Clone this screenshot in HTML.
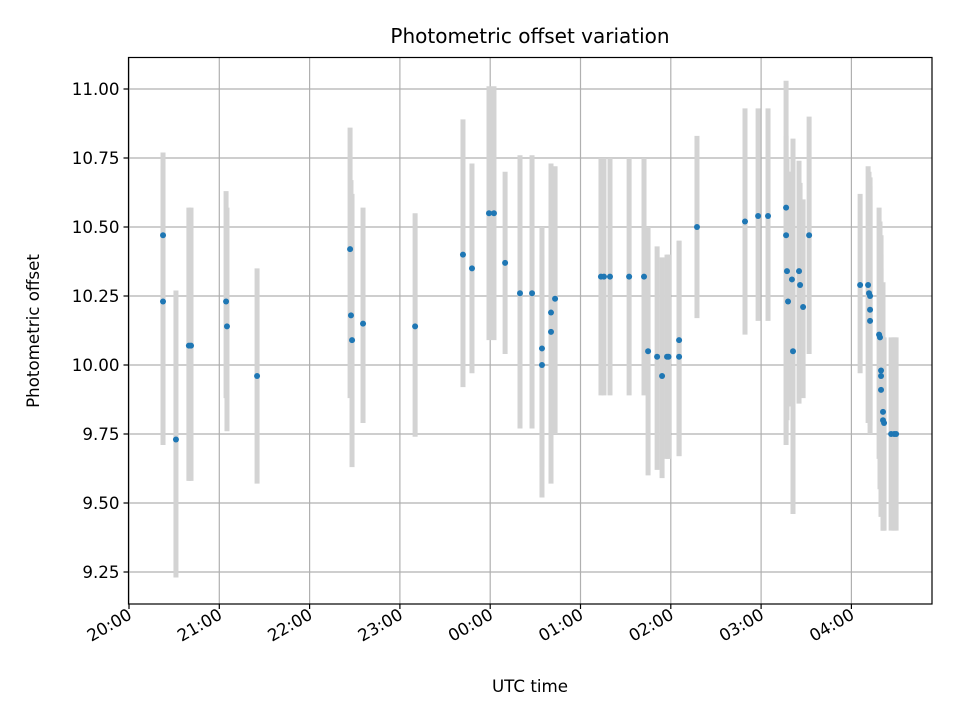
<!DOCTYPE html>
<html><head><meta charset="utf-8">
<style>
html,body{margin:0;padding:0;background:#fff;}
svg text{font-family:"DejaVu Sans","Liberation Sans",sans-serif;fill:#000;}
</style></head>
<body>
<svg id="chart" width="960" height="720" viewBox="0 0 960 720" xmlns="http://www.w3.org/2000/svg">
<rect width="960" height="720" fill="#fff"/>
<g id="grid"></g>
<g id="errs"></g>
<g id="pts"></g>
<rect x="128.5" y="57.5" width="803.5" height="546.5" fill="none" stroke="#000" stroke-width="1.2"/>
<g id="ticks"></g>
<text x="530" y="43" font-size="20" text-anchor="middle">Photometric offset variation</text>
<text x="530" y="692" font-size="16.7" text-anchor="middle">UTC time</text>
<text x="0" y="0" font-size="16.7" text-anchor="middle" transform="translate(39,331) rotate(-90)">Photometric offset</text>
</svg>
<script>
// minutes since 20:00
const minutes = [22.6,22.6,31.2,39.8,41.2,64.5,65.1,85.1,146.9,147.5,148.2,155.5,190.1,221.9,227.9,239.2,242.5,249.9,259.8,267.8,274.4,274.4,280.4,280.4,283.1,313.6,315.6,319.6,332.3,342.2,344.9,350.9,354.2,357.5,358.5,365.5,365.5,377.4,409.3,418.0,424.6,436.6,436.6,437.2,437.9,440.5,441.2,445.2,445.9,447.9,451.9,485.8,491.1,491.7,492.4,492.4,492.4,498.4,499.0,499.7,499.7,499.7,501.0,501.0,501.7,506.4,508.4,509.7];
const values = [10.47,10.23,9.73,10.07,10.07,10.23,10.14,9.96,10.42,10.18,10.09,10.15,10.14,10.40,10.35,10.55,10.55,10.37,10.26,10.26,10.06,10.00,10.12,10.19,10.24,10.32,10.32,10.32,10.32,10.32,10.05,10.03,9.96,10.03,10.03,10.09,10.03,10.50,10.52,10.54,10.54,10.57,10.47,10.34,10.23,10.31,10.05,10.34,10.29,10.21,10.47,10.29,10.29,10.26,10.25,10.20,10.16,10.11,10.10,9.98,9.96,9.91,9.83,9.80,9.79,9.75,9.75,9.75];
const lower = [9.71,9.72,9.23,9.58,9.58,9.88,9.76,9.57,9.88,10.00,9.63,9.79,9.74,9.92,9.97,10.09,10.09,10.04,9.77,9.77,9.52,9.63,9.57,9.62,9.75,9.89,9.89,9.89,9.89,9.89,9.60,9.62,9.59,9.66,9.66,9.67,9.67,10.17,10.11,10.16,10.16,9.75,9.71,9.80,9.85,9.85,9.46,9.86,9.90,9.88,10.04,9.97,9.79,9.86,9.78,9.80,9.75,9.66,9.55,9.53,9.45,9.45,9.40,9.40,9.40,9.40,9.40,9.40];
const upper = [10.77,10.72,10.27,10.57,10.57,10.63,10.57,10.35,10.86,10.67,10.62,10.57,10.55,10.89,10.73,11.01,11.01,10.70,10.76,10.76,10.50,10.40,10.73,10.73,10.72,10.75,10.75,10.75,10.75,10.75,10.50,10.43,10.39,10.40,10.40,10.45,10.45,10.83,10.93,10.93,10.93,11.03,10.83,10.75,10.70,10.70,10.82,10.74,10.66,10.60,10.90,10.62,10.72,10.70,10.68,10.60,10.65,10.57,10.52,10.47,10.40,10.35,10.30,10.20,10.10,10.10,10.10,10.10];
const yTicks = [9.25,9.50,9.75,10.00,10.25,10.50,10.75,11.00];
const xTickMinutes = [0,60,120,180,240,300,360,420,480];
const xTickLabels = ["20:00","21:00","22:00","23:00","00:00","01:00","02:00","03:00","04:00"];

const NS="http://www.w3.org/2000/svg";
const L=128.5,R=932,T=57.5,B=604;
function xs(m){return 129 + m*90.3/60;}
function ys(v){return 89 + (11 - v)*276;}
function mk(tag,attrs,parent){const e=document.createElementNS(NS,tag);for(const k in attrs)e.setAttribute(k,attrs[k]);parent.appendChild(e);return e;}
const grid=document.getElementById('grid'),ticks=document.getElementById('ticks'),errs=document.getElementById('errs'),pts=document.getElementById('pts');

yTicks.forEach(v=>{
  const y=ys(v);
  const g=mk('line',{x1:L,x2:R,y1:y,y2:y,stroke:'#b0b0b0','stroke-width':1.2},grid);
  
  
  const t=mk('line',{x1:L-5,x2:L,y1:y,y2:y,stroke:'#000','stroke-width':1.2},ticks);
  
  
  const lb=mk('text',{x:L-9,y:y+6,'font-size':16.7,'text-anchor':'end'},ticks);
  lb.textContent=v.toFixed(2);
  
  
});
xTickMinutes.forEach((m,i)=>{
  const x=xs(m);
  const g=mk('line',{x1:x,x2:x,y1:T,y2:B,stroke:'#b0b0b0','stroke-width':1.2},grid);
  
  
  const t=mk('line',{x1:x,x2:x,y1:B,y2:B+5,stroke:'#000','stroke-width':1.2},ticks);
  
  
  const lb=mk('text',{x:0,y:0,'font-size':16.7,'text-anchor':'end',transform:'translate('+(x+4)+','+(B+14)+') rotate(-30)'},ticks);
  lb.textContent=xTickLabels[i];
  
  
});
minutes.forEach((m,i)=>{
  const x=xs(m);
  const e=mk('line',{x1:x,x2:x,y1:ys(upper[i]),y2:ys(lower[i]),stroke:'#d3d3d3','stroke-width':5},errs);
  
  
  const c=mk('circle',{cx:x,cy:ys(values[i]),r:3,fill:'#1f77b4'},pts);
  
  
});
</script>
</body></html>
